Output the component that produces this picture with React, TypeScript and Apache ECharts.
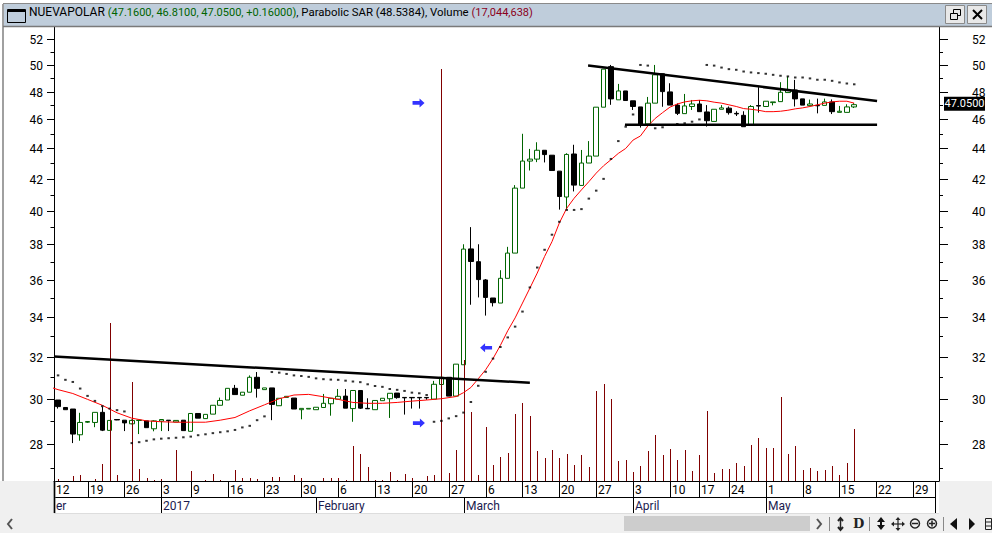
import React, { useEffect, useRef } from "react";
import * as echarts from "echarts";

const FONT = "Roboto";
const GREEN = "#006400";
const DARK_RED = "#800000";

// Bars are numbered by trading day; the first visible bar has number 1.
const opens = [29.94,29.6,29.53,28.39,28.94,28.93,29.38,28.58,29.06,29.03,28.87,29.02,29.0,28.65,28.99,29.03,28.95,29.03,28.54,29.33,29.1,29.3,29.7,29.94,30.48,30.16,30.3,31.0,30.42,30.5,29.68,30.06,30.03,29.5,29.53,29.5,29.6,29.77,29.98,30.12,29.55,30.38,29.56,29.5,29.91,30.0,30.26,30.06,30.06,30.06,30.06,29.98,30.66,31.0,30.12,31.6,37.73,37.0,35.98,35.0,34.73,36.07,37.49,41.41,43.16,43.29,43.88,43.55,42.5,40.85,43.63,41.58,43.03,43.49,46.87,49.87,47.4,48.05,47.33,46.89,45.68,47.16,49.33,47.98,47.02,46.41,46.92,47.1,46.53,45.86,46.72,46.8,46.43,46.29,45.63,46.99,46.92,47.2,47.27,47.93,48.12,47.47,46.98,47.0,47.0,47.25,46.5,46.5,46.89];
const closes = [29.64,29.5,28.42,28.93,28.97,29.38,28.59,29.02,29.04,28.91,29.02,29.03,28.7,29.0,29.06,29.01,29.02,28.57,29.33,29.12,29.29,29.7,29.92,30.48,30.19,30.3,31.0,30.48,30.5,29.74,30.02,30.11,29.53,29.56,29.56,29.61,29.79,30.02,30.11,29.57,30.38,29.57,29.54,29.92,30.02,30.25,30.05,30.04,30.04,30.04,30.04,30.67,31.0,30.12,31.63,37.72,37.01,36.0,35.03,34.75,36.07,37.49,41.41,43.16,43.29,43.88,43.59,42.54,40.88,43.6,41.6,43.03,43.49,46.87,49.68,47.47,48.05,47.35,46.92,45.63,47.16,49.25,48.0,47.02,46.43,46.96,47.1,46.55,45.91,46.72,46.82,46.48,46.39,45.49,46.92,46.95,47.3,47.25,47.95,48.12,47.47,47.02,47.1,46.97,47.25,46.55,46.58,46.89,47.05];
const lows = [29.55,29.5,28.03,28.13,28.91,28.72,28.55,28.58,29.03,28.55,28.85,28.42,28.7,28.54,28.55,28.55,28.95,28.57,28.54,29.12,29.1,29.3,29.7,29.94,30.19,30.16,30.3,30.05,30.42,29.03,29.68,30.06,29.53,29.07,29.53,29.5,29.6,29.23,29.98,29.57,28.96,29.53,29.54,29.5,29.91,29.13,30.0,29.28,29.55,29.55,29.95,29.98,30.66,30.12,30.12,31.6,34.64,35.03,34.07,34.55,34.73,36.07,37.49,41.41,42.54,43.09,43.07,42.54,40.07,40.1,41.2,41.58,43.03,43.49,46.87,47.04,47.4,47.35,46.67,45.43,45.68,47.16,46.9,47.02,46.31,46.41,46.67,46.55,45.5,45.86,46.72,46.34,46.24,45.49,45.63,46.48,46.92,47.0,47.27,47.93,46.92,47.02,46.98,46.43,47.0,46.38,46.5,46.5,46.81];
const highs = [29.94,29.6,29.53,29.36,28.99,29.38,29.64,29.02,29.07,29.03,29.06,29.03,29.0,29.03,29.06,29.03,29.02,29.03,29.33,29.33,29.29,29.7,30.05,30.48,30.64,30.3,31.09,31.25,30.5,30.5,30.02,30.11,30.03,29.56,29.56,29.61,30.22,30.02,30.45,30.45,30.38,30.38,30.02,29.92,30.02,30.25,30.26,30.06,30.06,30.06,30.06,30.83,31.0,31.0,31.63,38.0,39.01,38.0,36.03,35.0,36.52,37.85,41.6,45.0,43.97,44.42,43.88,43.55,42.5,43.68,44.25,43.9,44.5,46.87,49.68,50.0,48.57,48.05,47.33,46.89,47.61,50.0,49.33,48.62,47.14,47.83,47.39,47.39,47.02,46.72,47.02,46.92,46.58,46.58,47.02,48.33,47.3,47.25,48.7,49.12,48.87,47.47,47.42,47.49,47.49,47.43,46.96,47.08,47.16];

const volumesM = [0.7,0,1.7,2.1,0,0.7,5.6,51.5,2.1,0,32.4,4.0,1.1,0.4,0.7,0,10.2,0,3.4,0,0.4,2.4,0.4,0,3.7,1.1,1.1,0.7,0,1.4,1.4,0,2.1,1.1,0,0,1.1,1.1,1.1,0.4,11.5,8.9,4.7,0.4,0.4,3.0,0.4,2.4,1.1,0,1.7,2.1,134.3,2.7,10.2,39.4,22.6,2.1,17.6,5.3,7.9,9.2,21.9,25.5,21.3,9.9,7.6,10.2,7.6,8.9,5.3,8.6,4.7,29.4,31.7,26.8,6.6,6.9,3.0,5.0,9.9,15.1,8.6,10.5,6.9,10.2,3.4,8.6,22.9,2.7,4.0,4.0,6.0,5.0,11.8,14.1,10.9,10.9,27.5,8.9,11.5,3.7,4.3,3.4,3.7,5.0,2.1,6.0,17.04];

const sarValues = [31.09,30.88,30.78,30.47,30.13,29.9,29.66,29.55,29.48,29.42,28.03,28.07,28.13,28.19,28.22,28.24,28.26,28.28,28.31,28.37,28.41,28.46,28.5,28.54,28.6,28.71,28.78,29.03,29.2,31.25,31.22,31.16,31.09,31.06,31.02,30.95,30.91,30.89,30.88,30.84,30.8,30.77,30.67,30.59,30.55,30.45,30.41,30.36,30.28,30.25,30.17,28.96,29.0,29.11,29.21,29.37,29.85,30.6,31.26,31.9,32.47,32.95,33.5,34.28,35.57,36.67,37.68,38.56,39.33,40.05,40.05,40.1,40.75,41.25,42.0,43.3,44.5,45.49,46.35,50.0,49.95,45.38,45.45,null,45.68,45.73,45.84,46.0,50.0,49.95,49.8,49.68,49.63,49.5,49.43,49.38,49.33,49.25,49.18,49.13,49.05,49.05,48.98,48.88,48.88,48.8,48.68,48.6,48.54];

const maIndex = [0,1,3,5,7,9,11,13,15,17,19,21,23,25,27,29,31,33,35,37,39,41,43,45,47,49,51,53,55,56,57,58,59,60,61,62,63,64,65,66,67,68,69,70,71,72,73,74,75,76,77,78,79,80,81,82,83,84,85,86,87,88,89,90,91,92,93,94,95,96,97,98,99,100,101,102,103,104,105,106,107,108,109];
const maValues = [30.53,30.42,30.24,29.97,29.7,29.36,29.12,29.0,28.96,28.94,28.94,28.94,29.03,29.15,29.45,29.72,30.0,30.17,30.2,30.09,29.97,29.83,29.79,29.79,29.83,29.89,29.94,30.0,30.1,30.28,30.52,30.93,31.36,31.9,32.55,33.29,33.95,34.73,35.53,36.36,37.3,38.15,39.26,40.15,40.77,41.3,41.82,42.37,42.85,43.25,43.67,44.0,44.57,44.85,45.54,46.07,46.48,46.87,47.1,47.25,47.33,47.37,47.33,47.23,47.16,47.04,46.92,46.77,46.72,46.65,46.55,46.55,46.58,46.65,46.75,46.82,46.92,47.04,47.16,47.25,47.3,47.3,47.16];

const trendA = [[0.45, 32.0], [65, 30.74]];
const trendB = [[72.9, 49.95], [112.1, 47.32]];
const trendC = [[77.9, 45.62], [112.1, 45.62]];

const arrowsRight = [[49.9, 47.18], [49.95, 28.9]];
const arrowsLeft = [[59.06, 32.43]];

const priceLabels = ["52","50","48","46","44","42","40","38","36","34","32","30","28"];
const minorPrices = [51,49,47,45,43,41,39,37,35,33,31,29,27];
const lastPrice = "47.0500";

const dayTickIndex = [0,5,10,15,19,24,29,34,39,44,49,54,59,64,69,74,79,84,88,92,97,102,107,112,117];
const dayTickLabels = ["12","19","26","3","9","16","23","30","6","13","20","27","6","13","20","27","3","10","17","24","1","8","15","22","29"];
const monthTickIndex = [0,15,36,56,79,97];
const monthTickLabels = ["er","2017","February","March","April","May"];

const titleName = "NUEVAPOLAR";
const titleQuote = "(47.1600, 46.8100, 47.0500, +0.16000)";
const titleSar = ", Parabolic SAR (48.5384), Volume ";
const titleVolume = "(17,044,638)";

const X_MIN = 0.45;
const X_MAX = 120.5;
const Y_MIN = 26.45;
const Y_MAX = 52.99;
const VOL_MAX = 148;
const ARROW = "path://M0 2.4L7 2.4L7 0L12 4L7 8L7 5.6L0 5.6Z";

const line = (x1: number, y1: number, x2: number, y2: number, stroke = "#000", lineWidth = 1, z = 1) => ({
  type: "line", z, silent: true,
  shape: { x1, y1, x2, y2 },
  style: { stroke, lineWidth },
});
const rect = (x: number, y: number, width: number, height: number, fill: string, stroke?: string, z = 0) => ({
  type: "rect", z, silent: true,
  shape: { x, y, width, height },
  style: stroke ? { fill, stroke, lineWidth: 1 } : { fill },
});
const poly = (points: number[][], fill: string, z = 1) => ({
  type: "polygon", z, silent: true, shape: { points }, style: { fill },
});
const chevron = (points: number[][], stroke = "#555") => ({
  type: "polyline", z: 1, silent: true, shape: { points }, style: { stroke, lineWidth: 2, fill: "none" },
});
const ring = (cx: number, cy: number) => ({
  type: "circle", z: 1, silent: true, shape: { cx, cy, r: 4.5 }, style: { fill: "none", stroke: "#222", lineWidth: 1.5 },
});

const chrome: any[] = [
  rect(0, 0, 992, 4, "#FFFFFF"),
  rect(3, 4, 989, 23, "#BFCDDB"),
  line(3, 3.5, 992, 3.5, "#8A8A8A"),
  line(3, 26.5, 992, 26.5, "#7A7A7A", 1.5),
  rect(2, 4, 2, 477, "#A0A0A0"),
  rect(7.5, 9.5, 18, 13, "#BFCDDB", "#000"),
  line(7.5, 11, 25.5, 11, "#000", 2),
  // restore and close buttons
  rect(945.5, 5.5, 19, 18, "#E8E8E8", "#8A8A8A"),
  rect(967.5, 5.5, 19, 18, "#E8E8E8", "#8A8A8A"),
  { type: "rect", z: 1, silent: true, shape: { x: 953.5, y: 9.5, width: 7, height: 6 }, style: { fill: "none", stroke: "#000", lineWidth: 1 } },
  { type: "rect", z: 1, silent: true, shape: { x: 950.5, y: 13.5, width: 7, height: 6 }, style: { fill: "#E8E8E8", stroke: "#000", lineWidth: 1 } },
  line(973, 10, 982, 19, "#000", 2),
  line(982, 10, 973, 19, "#000", 2),
  // areas around the date axis
  rect(0, 481, 54, 52, "#F0F0F0"),
  rect(939, 481, 53, 35, "#F0F0F0"),
  rect(0, 514, 992, 19, "#F0F0F0"),
  // date axis rows
  line(54, 497.5, 936, 497.5),
  line(54, 513.5, 939, 513.5, "#DDDDDD"),
  line(54.5, 481, 54.5, 513, "#555", 2),
  line(935.5, 481, 935.5, 497),
  line(935.5, 497, 935.5, 513),
  // scrollbar
  rect(624, 516, 186, 15, "#CDCDCD"),
  chevron([[12, 519], [8, 524], [12, 529]]),
  chevron([[817, 519], [821, 524], [817, 529]]),
  line(829.5, 517, 829.5, 531, "#888"),
  line(869.5, 517, 869.5, 531, "#888"),
  line(943.5, 517, 943.5, 531, "#888"),
  // toolbar
  chevron([[838, 521], [840.5, 518], [843, 521]], "#222"),
  chevron([[838, 527], [840.5, 530], [843, 527]], "#222"),
  line(840.5, 518, 840.5, 530, "#222", 1.5),
  { type: "text", z: 1, silent: true, style: { text: "D", x: 853, y: 517, font: 'bold 13px "DejaVu Serif"', fill: "#222" } },
  poly([[881, 517], [885, 522], [877, 522]], "#111"),
  poly([[881, 530], [885, 525], [877, 525]], "#111"),
  rect(880, 521, 2, 5, "#111", undefined, 1),
  line(898, 519, 898, 529, "#222", 1.2),
  line(893, 524, 903, 524, "#222", 1.2),
  poly([[898, 517], [900.5, 520], [895.5, 520]], "#222"),
  poly([[898, 531], [900.5, 528], [895.5, 528]], "#222"),
  poly([[891, 524], [894, 521.5], [894, 526.5]], "#222"),
  poly([[905, 524], [902, 521.5], [902, 526.5]], "#222"),
  ring(915, 523.5),
  line(912, 523.5, 918, 523.5, "#222", 1.5),
  ring(932, 523.5),
  line(929, 523.5, 935, 523.5, "#222", 1.5),
  line(932, 520.5, 932, 526.5, "#222", 1.5),
  poly([[950, 524], [957, 518], [957, 530]], "#111"),
  poly([[975, 524], [969, 518], [969, 530]], "#111"),
  { type: "rect", z: 1, silent: true, shape: { x: 985.5, y: 518.5, width: 6, height: 11 }, style: { fill: "#F0F0F0", stroke: "#222", lineWidth: 1 } },
  line(985, 522, 992, 522, "#222"),
  line(985, 526, 992, 526, "#222"),
];

function renderPriceTicks(params: any, api: any) {
  const price = api.value(1);
  const y = Math.round(api.coord([X_MIN, price])[1]) + 0.5;
  const { x, width } = params.coordSys;
  const major = api.value(2) === 1;
  const leftLen = major ? 7 : 3.5;
  const rightLen = major ? 9 : 4;
  const children: any[] = [
    { type: "line", shape: { x1: x - leftLen, y1: y, x2: x, y2: y }, style: { stroke: "#000", lineWidth: 1 } },
    { type: "line", shape: { x1: x + width, y1: y, x2: x + width + rightLen, y2: y }, style: { stroke: "#000", lineWidth: 1 } },
  ];
  if (major) {
    const text = String(price);
    children.push(
      { type: "text", style: { text, x: 43, y, align: "right", verticalAlign: "middle", font: `12px ${FONT}`, fill: "#000" } },
      { type: "text", style: { text, x: 972, y, align: "left", verticalAlign: "middle", font: `12px ${FONT}`, fill: "#000" } },
    );
  }
  return { type: "group", children };
}

function renderDateTicks(labels: string[], top: number, height: number, fill: string) {
  return (params: any, api: any) => {
    const gridLeft = params.coordSys.x;
    const x = Math.max(gridLeft, Math.round(api.coord([api.value(0), Y_MIN])[0])) + 0.5;
    return {
      type: "group",
      children: [
        { type: "line", shape: { x1: x, y1: top, x2: x, y2: top + height }, style: { stroke: "#000", lineWidth: 1 } },
        { type: "text", style: { text: labels[params.dataIndex], x: x + 1.5, y: top + height / 2 + 0.5, align: "left", verticalAlign: "middle", font: `12px ${FONT}`, fill } },
      ],
    };
  };
}

function renderPriceTag(params: any, api: any) {
  const y = api.coord([X_MIN, api.value(1)])[1];
  return {
    type: "group",
    children: [
      { type: "rect", shape: { x: 944, y: y - 8, width: 41, height: 14 }, style: { fill: "#000" } },
      { type: "text", style: { text: lastPrice, x: 964.5, y: y - 1, align: "center", verticalAlign: "middle", font: `11px ${FONT}`, fill: "#FFF" } },
    ],
  };
}

function renderVolume(params: any, api: any) {
  const top = api.coord([api.value(0), api.value(1)]);
  const base = api.coord([api.value(0), 0]);
  const x = Math.round(top[0]);
  return {
    type: "rect",
    shape: { x, y: Math.round(top[1]), width: 1, height: Math.round(base[1]) - Math.round(top[1]) },
    style: { fill: DARK_RED },
  };
}

function buildOption(): any {
  const candles = opens.map((o, i) => [i + 1, o, closes[i], lows[i], highs[i]]);
  const volumes = volumesM.map((v, i) => [i + 1, v * 1e6]).filter((d) => d[1] > 0);
  const sar = sarValues.map((v, i) => [i + 1, v]).filter((d) => d[1] !== null);
  const ma = maIndex.map((x, i) => [x, maValues[i]]);
  const priceTicks = [
    ...priceLabels.map((l) => [X_MIN, Number(l), 1]),
    ...minorPrices.map((p) => [X_MIN, p, 0]),
  ];
  const trend = (data: number[][]) => ({
    type: "line", data, z: 6, symbol: "none", silent: true,
    lineStyle: { color: "#000", width: 2.5 },
  });
  return {
    animation: false,
    backgroundColor: "#FFFFFF",
    title: {
      left: 29, top: 6, padding: 0,
      text: `{k|${titleName} }{g|${titleQuote}}{s|${titleSar}}{r|${titleVolume}}`,
      textStyle: {
        rich: {
          k: { color: "#000", fontFamily: FONT, fontSize: 12, fontWeight: "normal" },
          g: { color: GREEN, fontFamily: FONT, fontSize: 11, fontWeight: "normal" },
          s: { color: "#000", fontFamily: FONT, fontSize: 11.4, fontWeight: "normal" },
          r: { color: "#8B0020", fontFamily: FONT, fontSize: 11, fontWeight: "normal" },
        },
      },
    },
    graphic: { elements: chrome },
    grid: { left: 54, right: 53, top: 27, bottom: 52, containLabel: false },
    xAxis: {
      type: "value", min: X_MIN, max: X_MAX, splitLine: { show: false },
      axisTick: { show: false }, axisLabel: { show: false },
      axisLine: { show: true, onZero: false, lineStyle: { color: "#000", width: 1 } },
    },
    yAxis: [
      {
        type: "log", logBase: 10, min: Y_MIN, max: Y_MAX, position: "left", splitLine: { show: false },
        axisTick: { show: false }, axisLabel: { show: false },
        axisLine: { show: true, onZero: false, lineStyle: { color: "#000", width: 1 } },
      },
      {
        type: "value", min: 0, max: VOL_MAX * 1e6, position: "right", splitLine: { show: false },
        axisTick: { show: false }, axisLabel: { show: false },
        axisLine: { show: true, onZero: false, lineStyle: { color: "#000", width: 1 } },
      },
    ],
    series: [
      {
        name: "NUEVAPOLAR", type: "candlestick", data: candles, encode: { x: 0, y: [1, 2, 3, 4] },
        barWidth: 5, z: 2, silent: true,
        itemStyle: { color: "#FFFFFF", color0: "#000000", borderColor: GREEN, borderColor0: "#000000", borderWidth: 1 },
      },
      {
        name: "Volume", type: "custom", yAxisIndex: 1, data: volumes, renderItem: renderVolume,
        encode: { x: 0, y: 1 }, z: 3, silent: true,
      },
      {
        name: "Average", type: "line", data: ma, symbol: "none", z: 4, silent: true,
        lineStyle: { color: "#FF0000", width: 1 },
      },
      {
        name: "Parabolic SAR", type: "scatter", data: sar, symbol: "rect", symbolSize: [2.5, 2], z: 5, silent: true,
        itemStyle: { color: "#000" },
      },
      trend(trendA), trend(trendB), trend(trendC),
      {
        type: "scatter", data: arrowsRight, symbol: ARROW, symbolSize: [12, 9], z: 7, silent: true,
        itemStyle: { color: "#0000FF" },
      },
      {
        type: "scatter", data: arrowsLeft, symbol: ARROW, symbolSize: [12, 9], symbolRotate: 180, z: 7, silent: true,
        itemStyle: { color: "#0000FF" },
      },
      {
        type: "custom", data: priceTicks, renderItem: renderPriceTicks, encode: { x: 0, y: 1 }, z: 8, silent: true, clip: false,
      },
      {
        type: "custom", data: [[X_MIN, Number(lastPrice)]], renderItem: renderPriceTag, encode: { x: 0, y: 1 }, z: 9, silent: true, clip: false,
      },
      {
        type: "custom", data: dayTickIndex.map((i) => [i, Y_MIN]), renderItem: renderDateTicks(dayTickLabels, 481, 16, "#000"),
        encode: { x: 0, y: 1 }, z: 8, silent: true, clip: false,
      },
      {
        type: "custom", data: monthTickIndex.map((i) => [i, Y_MIN]), renderItem: renderDateTicks(monthTickLabels, 497, 16, "#1A1A50"),
        encode: { x: 0, y: 1 }, z: 8, silent: true, clip: false,
      },
    ],
  };
}

export default function App() {
  const ref = useRef<HTMLDivElement>(null);
  useEffect(() => {
    document.body.style.margin = "0";
    const chart = echarts.init(ref.current!, undefined, { renderer: "svg" });
    chart.setOption(buildOption());
    return () => chart.dispose();
  }, []);
  return <div ref={ref} style={{ width: 992, height: 533 }} />;
}
